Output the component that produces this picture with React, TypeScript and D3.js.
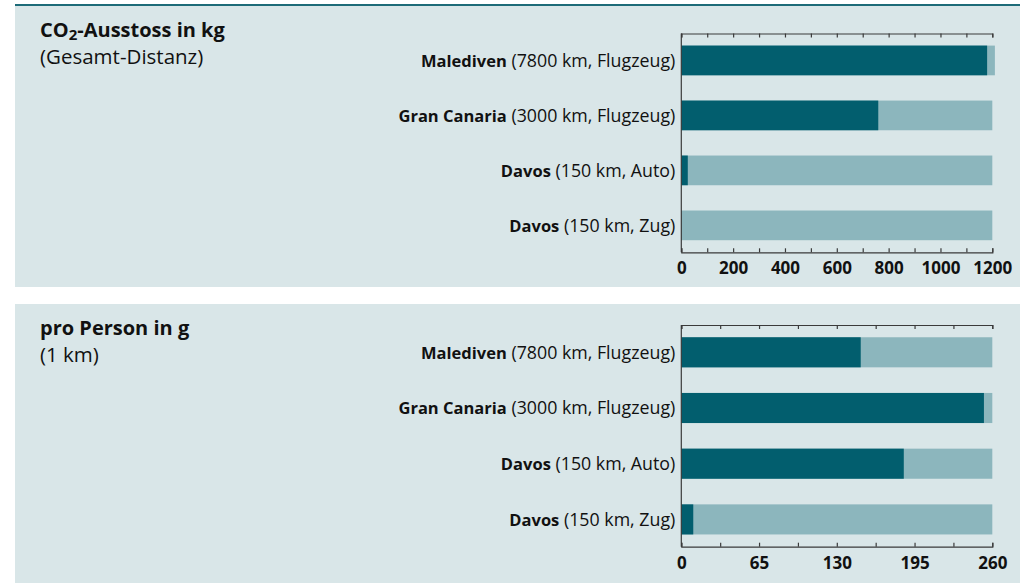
import * as React from 'react';
import * as d3 from 'd3';
import { useRef, useEffect } from 'react';

// Destinations (bold part) and trip details (regular part)
const destinations = ['Malediven', 'Gran Canaria', 'Davos', 'Davos'];
const tripDetails = ['(7800 km, Flugzeug)', '(3000 km, Flugzeug)', '(150 km, Auto)', '(150 km, Zug)'];

// CO2 total in kg (dark bars) and the light background bars
const totalKg = [1180, 760, 25, 1];
const totalKgBackground = [1210, 1200, 1200, 1200];

// CO2 per person in g for 1 km
const perPersonG = [150, 253, 186, 10];
const perPersonBackground = [260, 260, 260, 260];

// Axis ticks and the labelled subset
const kgTicks = [0, 100, 200, 300, 400, 500, 600, 700, 800, 900, 1000, 1100, 1200];
const kgTickLabels = [0, 200, 400, 600, 800, 1000, 1200];
const gTicks = [0, 32.5, 65, 97.5, 130, 162.5, 195, 227.5, 260];
const gTickLabels = [0, 65, 130, 195, 260];

const FONT = '"Open Sans", "Noto Sans", sans-serif';
const DARK = '#025e6e';
const LIGHT = '#8cb6bd';
const PANEL_BG = '#d9e6e8';
const AXIS = '#3a3a3a';

const plotLeft = 681.3;
const plotRight = 992.3;

type PanelProps = {
    top: number,
    height: number,
    // axis lines inside the panel (absolute y)
    axisTop: number,
    axisBottom: number,
    title: React.ReactNode,
    subtitle: string,
    values: number[],
    background: number[],
    max: number,
    ticks: number[],
    tickLabels: number[],
}

const Panel = (props: PanelProps) => {
    const gRef = useRef<SVGGElement>(null)
    const { top, height, axisTop, axisBottom, values, background, max, ticks, tickLabels } = props

    const x = d3.scaleLinear().domain([0, max]).range([plotLeft, plotRight])
    const y = d3.scaleBand<number>()
        .domain(values.map((_, i) => i))
        .range([axisTop, axisBottom])
        .paddingInner(0.46)
        .paddingOuter(0.22)

    useEffect(() => {
        const g = d3.select(gRef.current)
        g.selectAll('*').remove()

        // top axis, ticks pointing down, no labels
        g.append('g')
            .attr('transform', `translate(0,${axisTop})`)
            .call(d3.axisTop(x).tickValues(ticks).tickSize(-4).tickFormat(() => ''))

        // bottom axis, ticks pointing up, every other tick labelled
        g.append('g')
            .attr('transform', `translate(0,${axisBottom})`)
            .call(d3.axisBottom(x).tickValues(ticks).tickSize(-4).tickPadding(10)
                .tickFormat((d) => tickLabels.includes(+d) ? String(d) : ''))

        g.selectAll('.domain, .tick line').attr('stroke', AXIS).attr('stroke-width', 1.2)
        g.selectAll('.tick text')
            .attr('font-family', FONT)
            .attr('font-size', 17)
            .attr('font-weight', 700)
            .attr('fill', '#111')

        // vertical base line
        g.append('line')
            .attr('x1', x(0)).attr('x2', x(0))
            .attr('y1', axisTop).attr('y2', axisBottom)
            .attr('stroke', AXIS).attr('stroke-width', 1.2)
    }, [])

    return (
        <g>
            <rect x={15} y={top} width={1005} height={height} fill={PANEL_BG} />
            <text x={40} y={top + 31} fontFamily={FONT} fontSize={20} fontWeight={700} fill="#111">{props.title}</text>
            <text x={40} y={top + 58} fontFamily={FONT} fontSize={20.5} fill="#111">{props.subtitle}</text>
            {values.map((v, i) => (
                <g key={i}>
                    <rect x={x(0)} y={y(i)} width={x(background[i]) - x(0)} height={y.bandwidth()} fill={LIGHT} />
                    <rect x={x(0)} y={y(i)} width={x(v) - x(0)} height={y.bandwidth()} fill={DARK} />
                    <text x={x(0) - 6} y={(y(i) ?? 0) + y.bandwidth() / 2} dy="0.35em" textAnchor="end"
                        fontFamily={FONT} fontSize={17.8} fill="#111">
                        <tspan fontWeight={700} fontSize={16.5}>{destinations[i]}</tspan> {tripDetails[i]}
                    </text>
                </g>
            ))}
            <g ref={gRef} />
        </g>
    )
}

export default function App() {
    return (
        <svg width={1020} height={583} style={{ position: 'absolute', left: 0, top: 0, background: '#fff' }}>
            <rect x={15} y={4} width={1005} height={2} fill="#1d6b78" />
            <Panel
                top={6} height={281} axisTop={33.5} axisBottom={252.3}
                title={<>CO<tspan fontSize={15} dy={3}>2</tspan><tspan dy={-3}>-Ausstoss in kg</tspan></>}
                subtitle="(Gesamt-Distanz)"
                values={totalKg} background={totalKgBackground} max={1200}
                ticks={kgTicks} tickLabels={kgTickLabels}
            />
            <Panel
                top={304} height={279} axisTop={325} axisBottom={546.7}
                title="pro Person in g"
                subtitle="(1 km)"
                values={perPersonG} background={perPersonBackground} max={260}
                ticks={gTicks} tickLabels={gTickLabels}
            />
        </svg>
    )
}
